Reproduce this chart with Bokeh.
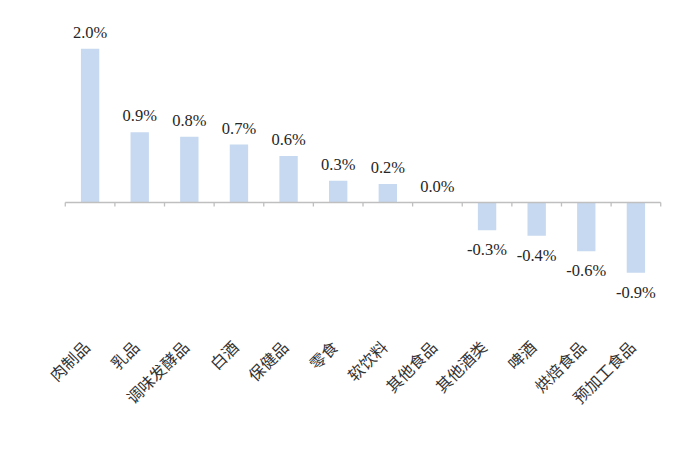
import math
from bokeh.plotting import figure
from bokeh.models import ColumnDataSource, FactorRange
from bokeh.transform import dodge
from bokeh.core.properties import value
from bokeh.embed import file_html
from bokeh.resources import INLINE

categories = ["肉制品", "乳品", "调味发酵品", "白酒", "保健品", "零食",
              "软饮料", "其他食品", "其他酒类", "啤酒", "烘焙食品", "预加工食品"]
values = [1.99, 0.91, 0.85, 0.75, 0.60, 0.28, 0.24, 0.0, -0.36, -0.43, -0.63, -0.91]
value_labels = ["2.0%", "0.9%", "0.8%", "0.7%", "0.6%", "0.3%", "0.2%", "0.0%",
                "-0.3%", "-0.4%", "-0.6%", "-0.9%"]

PX_PER_UNIT = 77.3
FRAME_TOP = 13
ZERO_Y = 202
W, H = 690, 440
FRAME_BOTTOM = H
LABEL_END_Y = 343   # screen y of category label anchors

y_end = (ZERO_Y - FRAME_TOP) / PX_PER_UNIT
y_start = -(FRAME_BOTTOM - ZERO_Y) / PX_PER_UNIT
label_y = -(LABEL_END_Y - ZERO_Y) / PX_PER_UNIT

x_range = FactorRange(factors=categories, range_padding=0.6,
                      range_padding_units="absolute")
p = figure(x_range=x_range, y_range=(y_start, y_end), width=W, height=H,
           output_backend="svg", toolbar_location=None,
           min_border_left=35, min_border_right=0,
           min_border_top=FRAME_TOP, min_border_bottom=0)
p.outline_line_color = None
p.grid.visible = False
p.yaxis.visible = False
p.xaxis.visible = False
p.background_fill_color = "white"
p.border_fill_color = "white"

src = ColumnDataSource(dict(cat=categories, val=values, lab=value_labels,
                            ly=[label_y] * len(categories)))
p.vbar(x="cat", top="val", bottom=0, width=0.37, source=src,
       fill_color="#C6D9F0", line_color=None)

# zero line with boundary ticks
axis_color = "#BFBFBF"
ends = ColumnDataSource(dict(first=[categories[0]], last=[categories[-1]]))
p.segment(x0=dodge("first", -0.5, range=p.x_range), x1=dodge("last", 0.5, range=p.x_range),
          y0=0, y1=0, source=ends, line_color=axis_color, line_width=1.3)
tick = 4 / PX_PER_UNIT
p.segment(x0=dodge("cat", -0.5, range=p.x_range), x1=dodge("cat", -0.5, range=p.x_range),
          y0=0, y1=-tick, source=src, line_color=axis_color, line_width=1.3)
p.segment(x0=dodge("last", 0.5, range=p.x_range), x1=dodge("last", 0.5, range=p.x_range),
          y0=0, y1=-tick, source=ends, line_color=axis_color, line_width=1.3)

# value labels
pos_idx = [i for i, v in enumerate(values) if v >= 0]
neg_idx = [i for i, v in enumerate(values) if v < 0]
pos_src = ColumnDataSource(dict(cat=[categories[i] for i in pos_idx],
                                val=[values[i] for i in pos_idx],
                                lab=[value_labels[i] for i in pos_idx]))
neg_src = ColumnDataSource(dict(cat=[categories[i] for i in neg_idx],
                                val=[values[i] for i in neg_idx],
                                lab=[value_labels[i] for i in neg_idx]))
common = dict(text="lab", text_font=value("Liberation Serif"), text_font_size="16.5px",
              text_color="#262626", text_align="center")
p.text(x="cat", y="val", source=pos_src, text_baseline="bottom", y_offset=-7, **common)
p.text(x="cat", y="val", source=neg_src, text_baseline="top", y_offset=10, **common)

# rotated category labels
p.text(x=dodge("cat", -0.08, range=p.x_range), y="ly", text="cat", source=src,
       angle=math.pi / 4, text_align="right", text_baseline="middle",
       text_font=value("Noto Sans CJK SC"), text_font_size="16px",
       text_color="#333333")

open("out.html", "w").write(file_html(p, INLINE))
